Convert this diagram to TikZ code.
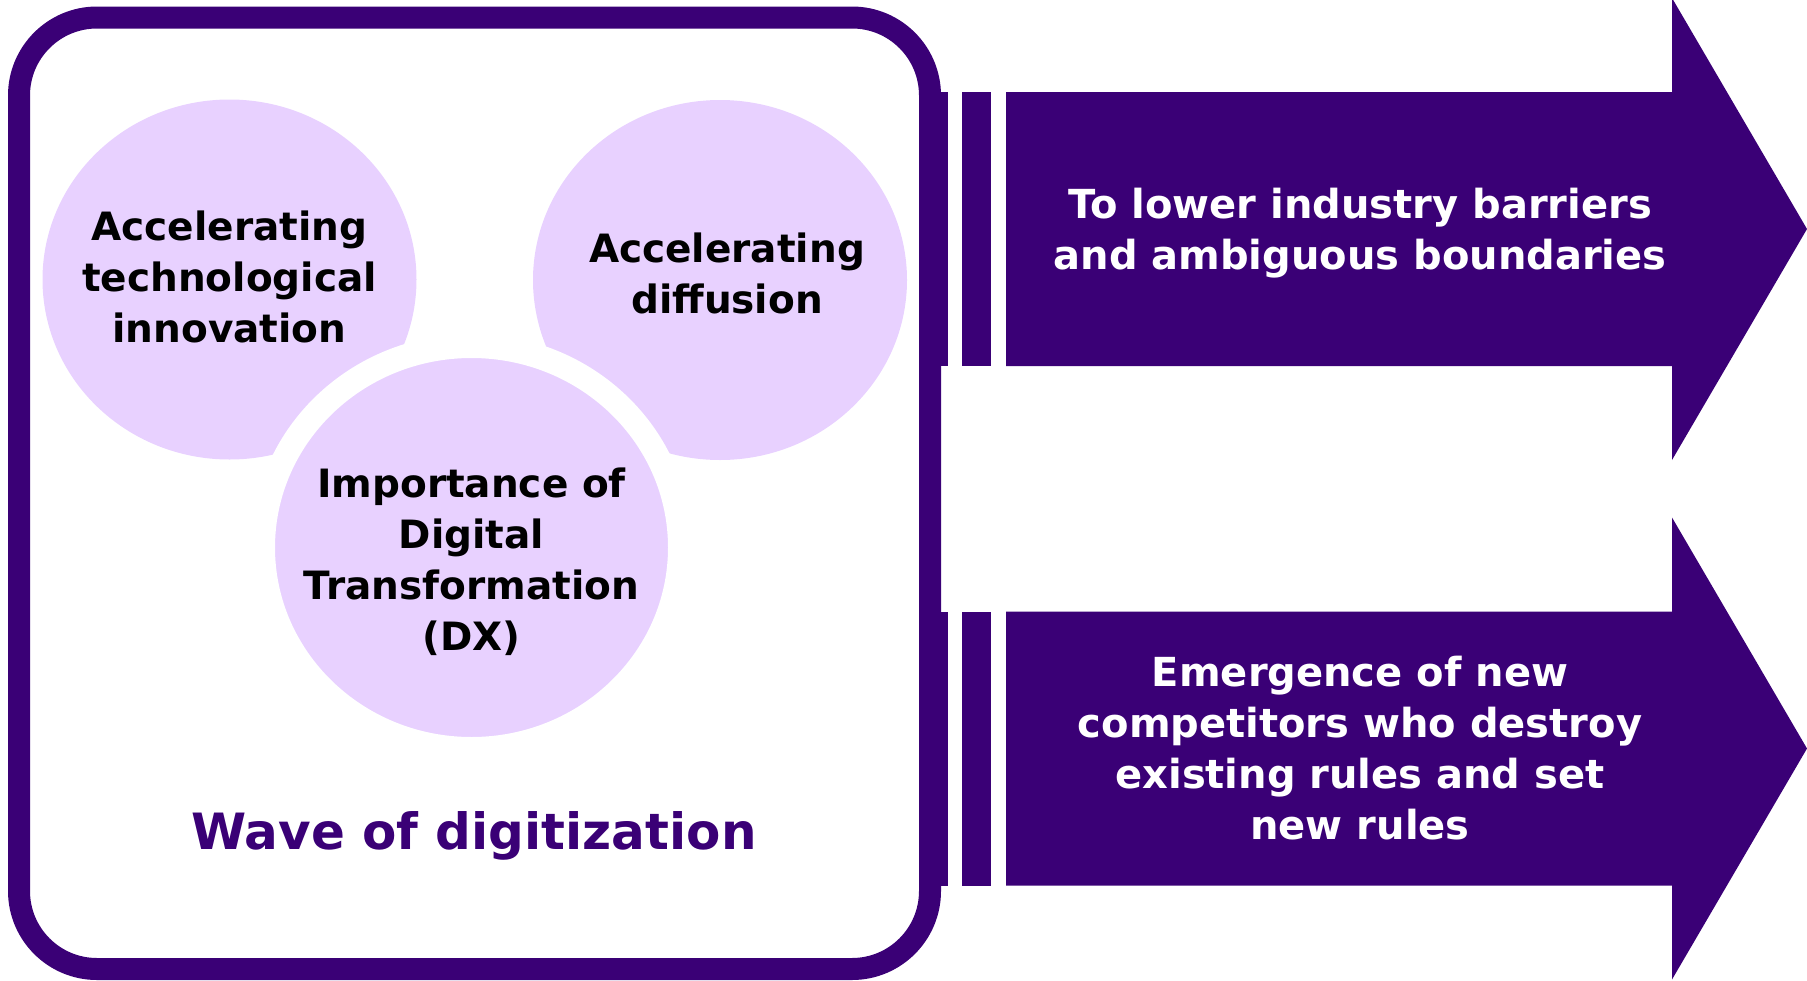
\documentclass[tikz,border=0pt]{standalone}
\usepackage{fontspec}
\setmainfont{DejaVu Sans}
\usetikzlibrary{shapes.geometric}
\definecolor{dxpurple}{RGB}{58,0,118}
\definecolor{dxlilac}{RGB}{232,209,255}

\begin{document}
\begin{tikzpicture}[x=1pt, y=-1pt,
        bubble/.style={ellipse, fill=dxlilac, inner sep=0pt},
        bubbletxt/.style={align=center, font=\bfseries\fontsize{39}{51}\selectfont},
        arrowtxt/.style={text=white, align=center,
            font=\bfseries\fontsize{40}{51}\selectfont}]
        \useasboundingbox (0,0) rectangle (1807,980);

        % Define the arrows
        \foreach \yc/\nm in {229/up, 748.5/down} {
            \fill[dxpurple] (1006,\yc-137) -- (1672,\yc-137) -- (1672,\yc-231)
                -- (1807,\yc) -- (1672,\yc+231) -- (1672,\yc+137) -- (1006,\yc+137) -- cycle;
            \fill[dxpurple] (919,\yc-137) rectangle (948,\yc+137);
            \fill[dxpurple] (962,\yc-137) rectangle (991,\yc+137);
            \coordinate (\nm) at (1360,\yc);
        }

        % Define the frame
        \draw[dxpurple, line width=22pt, rounded corners=78pt] (19,17.5) rectangle (930,969);

        % Define the nodes
        \node[bubble, minimum width=374pt, minimum height=360pt] (tech) at (229.5,279.5) {};
        \node[bubble, minimum width=374pt, minimum height=360pt] (diff) at (720,280) {};
        \node[bubble, draw=white, line width=24pt, minimum width=417pt, minimum height=403pt]
            (dx) at (471.5,547.5) {};
        \node[bubbletxt] (tech_txt) at ([yshift=3pt]tech.center)
            {Accelerating\\technological\\innovation};
        \node[bubbletxt] (diff_txt) at ([xshift=7pt, yshift=7pt]diff.center)
            {Accelerating\\diffusion};
        \node[bubbletxt] (dx_txt) at ([yshift=-14pt]dx.center)
            {Importance of\\Digital\\Transformation\\(DX)};
        \node[text=dxpurple, font=\bfseries\fontsize{50}{60}\selectfont, anchor=base]
            (wave) at (474,849) {Wave of digitization};

        % Define the arrow texts
        \node[arrowtxt] (barrier) at ([yshift=-4pt]up) {To lower industry barriers\\and ambiguous boundaries};
        \node[arrowtxt] (rules) at (down)
            {Emergence of new\\competitors who destroy\\existing rules and set\\new rules};
    \end{tikzpicture}
\end{document}
